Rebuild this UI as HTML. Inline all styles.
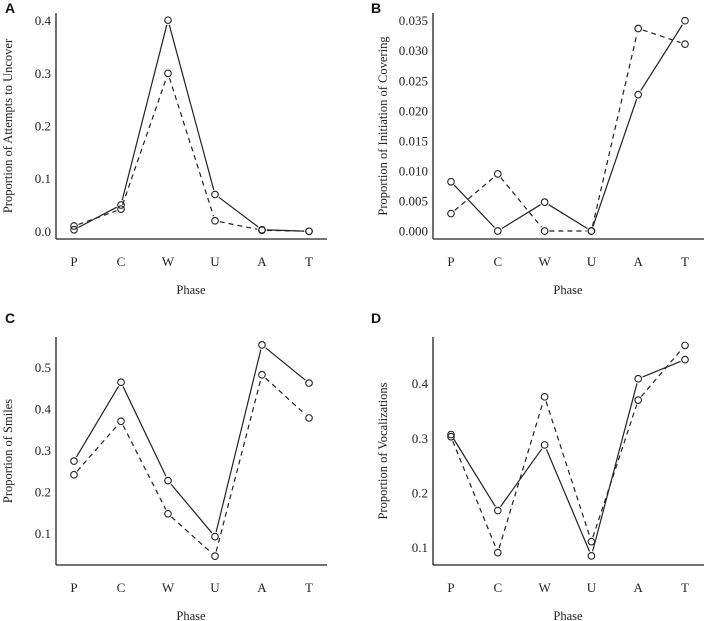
<!DOCTYPE html>
<html><head><meta charset="utf-8">
<style>
html,body{margin:0;padding:0;background:#fff;}
svg{display:block;}
text{font-family:"Liberation Serif",serif;fill:#222;}
.pl{font-family:"Liberation Sans",sans-serif;font-weight:bold;font-size:14px;fill:#111;}
</style></head>
<body>
<svg id="c" width="707" height="621" viewBox="0 0 707 621"></svg>
<script>
const categories = ["P","C","W","U","A","T"];
const aSolid  = [0.003,0.050,0.401,0.070,0.003,0.000];
const aDashed = [0.010,0.042,0.300,0.020,0.002,0.000];
const aTicks  = [0.0,0.1,0.2,0.3,0.4];
const aTickLabels = ["0.0","0.1","0.2","0.3","0.4"];
const bSolid  = [0.0082,0.0000,0.0048,0.0000,0.0227,0.0350];
const bDashed = [0.0029,0.0095,0.0000,0.0000,0.0337,0.0311];
const bTicks  = [0,0.005,0.010,0.015,0.020,0.025,0.030,0.035];
const bTickLabels = ["0.000","0.005","0.010","0.015","0.020","0.025","0.030","0.035"];
const cSolid  = [0.274,0.464,0.227,0.092,0.554,0.462];
const cDashed = [0.241,0.370,0.147,0.045,0.482,0.378];
const cTicks  = [0.1,0.2,0.3,0.4,0.5];
const cTickLabels = ["0.1","0.2","0.3","0.4","0.5"];
const dSolid  = [0.307,0.168,0.288,0.085,0.409,0.444];
const dDashed = [0.303,0.091,0.376,0.111,0.370,0.470];
const dTicks  = [0.1,0.2,0.3,0.4];
const dTickLabels = ["0.1","0.2","0.3","0.4"];

const svg=document.getElementById('c');
const NS='http://www.w3.org/2000/svg';
function mk(tag,attrs,parent){const e=document.createElementNS(NS,tag);for(const k in attrs)e.setAttribute(k,attrs[k]);(parent||svg).appendChild(e);return e;}

function panel(cfg){
  const g=mk('g',{});
  
  
  const yS=v=>cfg.y0+(v-cfg.v0)*(cfg.y1-cfg.y0)/(cfg.v1-cfg.v0);
  const xS=i=>cfg.xP+i*cfg.step;
  const ya=mk('line',{x1:cfg.ax,y1:cfg.axTop,x2:cfg.ax,y2:cfg.axBot,stroke:'#222','stroke-width':1.3},g);
  
  
  const xa=mk('line',{x1:cfg.ax,y1:cfg.axBot,x2:cfg.axRight,y2:cfg.axBot,stroke:'#222','stroke-width':1.3},g);
  
  
  cfg.ticks.forEach((t,i)=>{
    const y=yS(t);
    const tx=mk('text',{x:cfg.ax-5,y:y+4.5,'font-size':13,'text-anchor':'end'},g);
    tx.textContent=cfg.tickLabels[i];
    
    
  });
  categories.forEach((c,i)=>{
    const tx=mk('text',{x:xS(i),y:cfg.axBot+27,'font-size':13,'text-anchor':'middle'},g);
    tx.textContent=c;
    
    
  });
  const xt=mk('text',{x:cfg.phaseX,y:cfg.axBot+55,'font-size':12.5,'text-anchor':'middle'},g);
  xt.textContent='Phase';
  
  
  const ycx=cfg.ylabX, ycy=(cfg.axTop+cfg.axBot)/2;
  const yt=mk('text',{x:ycx,y:ycy,'font-size':12.5,'text-anchor':'middle',transform:`rotate(-90 ${ycx} ${ycy})`},g);
  yt.textContent=cfg.ylabel;
  
  
  const pl=mk('text',{x:cfg.lx,y:cfg.ly,class:'pl'},g);
  pl.textContent=cfg.letter;
  
  
  const r=3.3;
  [[cfg.solid,null,'series-solid'],[cfg.dashed,'5,4','series-dashed']].forEach(([vals,dash,nm])=>{
    const sg=mk('g',{},g);
    
    
    for(let i=0;i<vals.length-1;i++){
      const x1=xS(i),y1=yS(vals[i]),x2=xS(i+1),y2=yS(vals[i+1]);
      const dx=x2-x1,dy=y2-y1,L=Math.hypot(dx,dy),g2=r+1.5;
      if(L<=2*g2)continue;
      const a={x1:x1+dx*g2/L,y1:y1+dy*g2/L,x2:x2-dx*g2/L,y2:y2-dy*g2/L,stroke:'#222','stroke-width':1.2};
      if(dash)a['stroke-dasharray']=dash;
      const ln=mk('line',a,sg);
      
      
    }
    vals.forEach((v,i)=>{
      const pt=mk('circle',{cx:xS(i),cy:yS(v),r:r,fill:'none',stroke:'#222','stroke-width':1.1},sg);
      
      
    });
  });
}
panel({name:'panel-a',letter:'A',lx:5,ly:13,ax:56,axTop:13,axBot:239,axRight:327,v0:0,v1:0.4,y0:231.3,y1:20.7,
  xP:74,step:47,phaseX:191,ylabX:12,ylabel:'Proportion of Attempts to Uncover',
  ticks:aTicks,tickLabels:aTickLabels,solid:aSolid,dashed:aDashed});
panel({name:'panel-b',letter:'B',lx:371,ly:13,ax:433,axTop:13,axBot:239,axRight:704,v0:0,v1:0.035,y0:231,y1:20.7,
  xP:451,step:46.8,phaseX:568,ylabX:387,ylabel:'Proportion of Initiation of Covering',
  ticks:bTicks,tickLabels:bTickLabels,solid:bSolid,dashed:bDashed});
panel({name:'panel-c',letter:'C',lx:5,ly:323,ax:56,axTop:337,axBot:565,axRight:327,v0:0.1,v1:0.5,y0:533.3,y1:367.3,
  xP:74,step:47,phaseX:191,ylabX:12,ylabel:'Proportion of Smiles',
  ticks:cTicks,tickLabels:cTickLabels,solid:cSolid,dashed:cDashed});
panel({name:'panel-d',letter:'D',lx:371,ly:323,ax:433,axTop:337,axBot:565,axRight:704,v0:0.1,v1:0.4,y0:547.7,y1:383.7,
  xP:451,step:46.8,phaseX:568,ylabX:387,ylabel:'Proportion of Vocalizations',
  ticks:dTicks,tickLabels:dTickLabels,solid:dSolid,dashed:dDashed});
</script>
</body></html>
